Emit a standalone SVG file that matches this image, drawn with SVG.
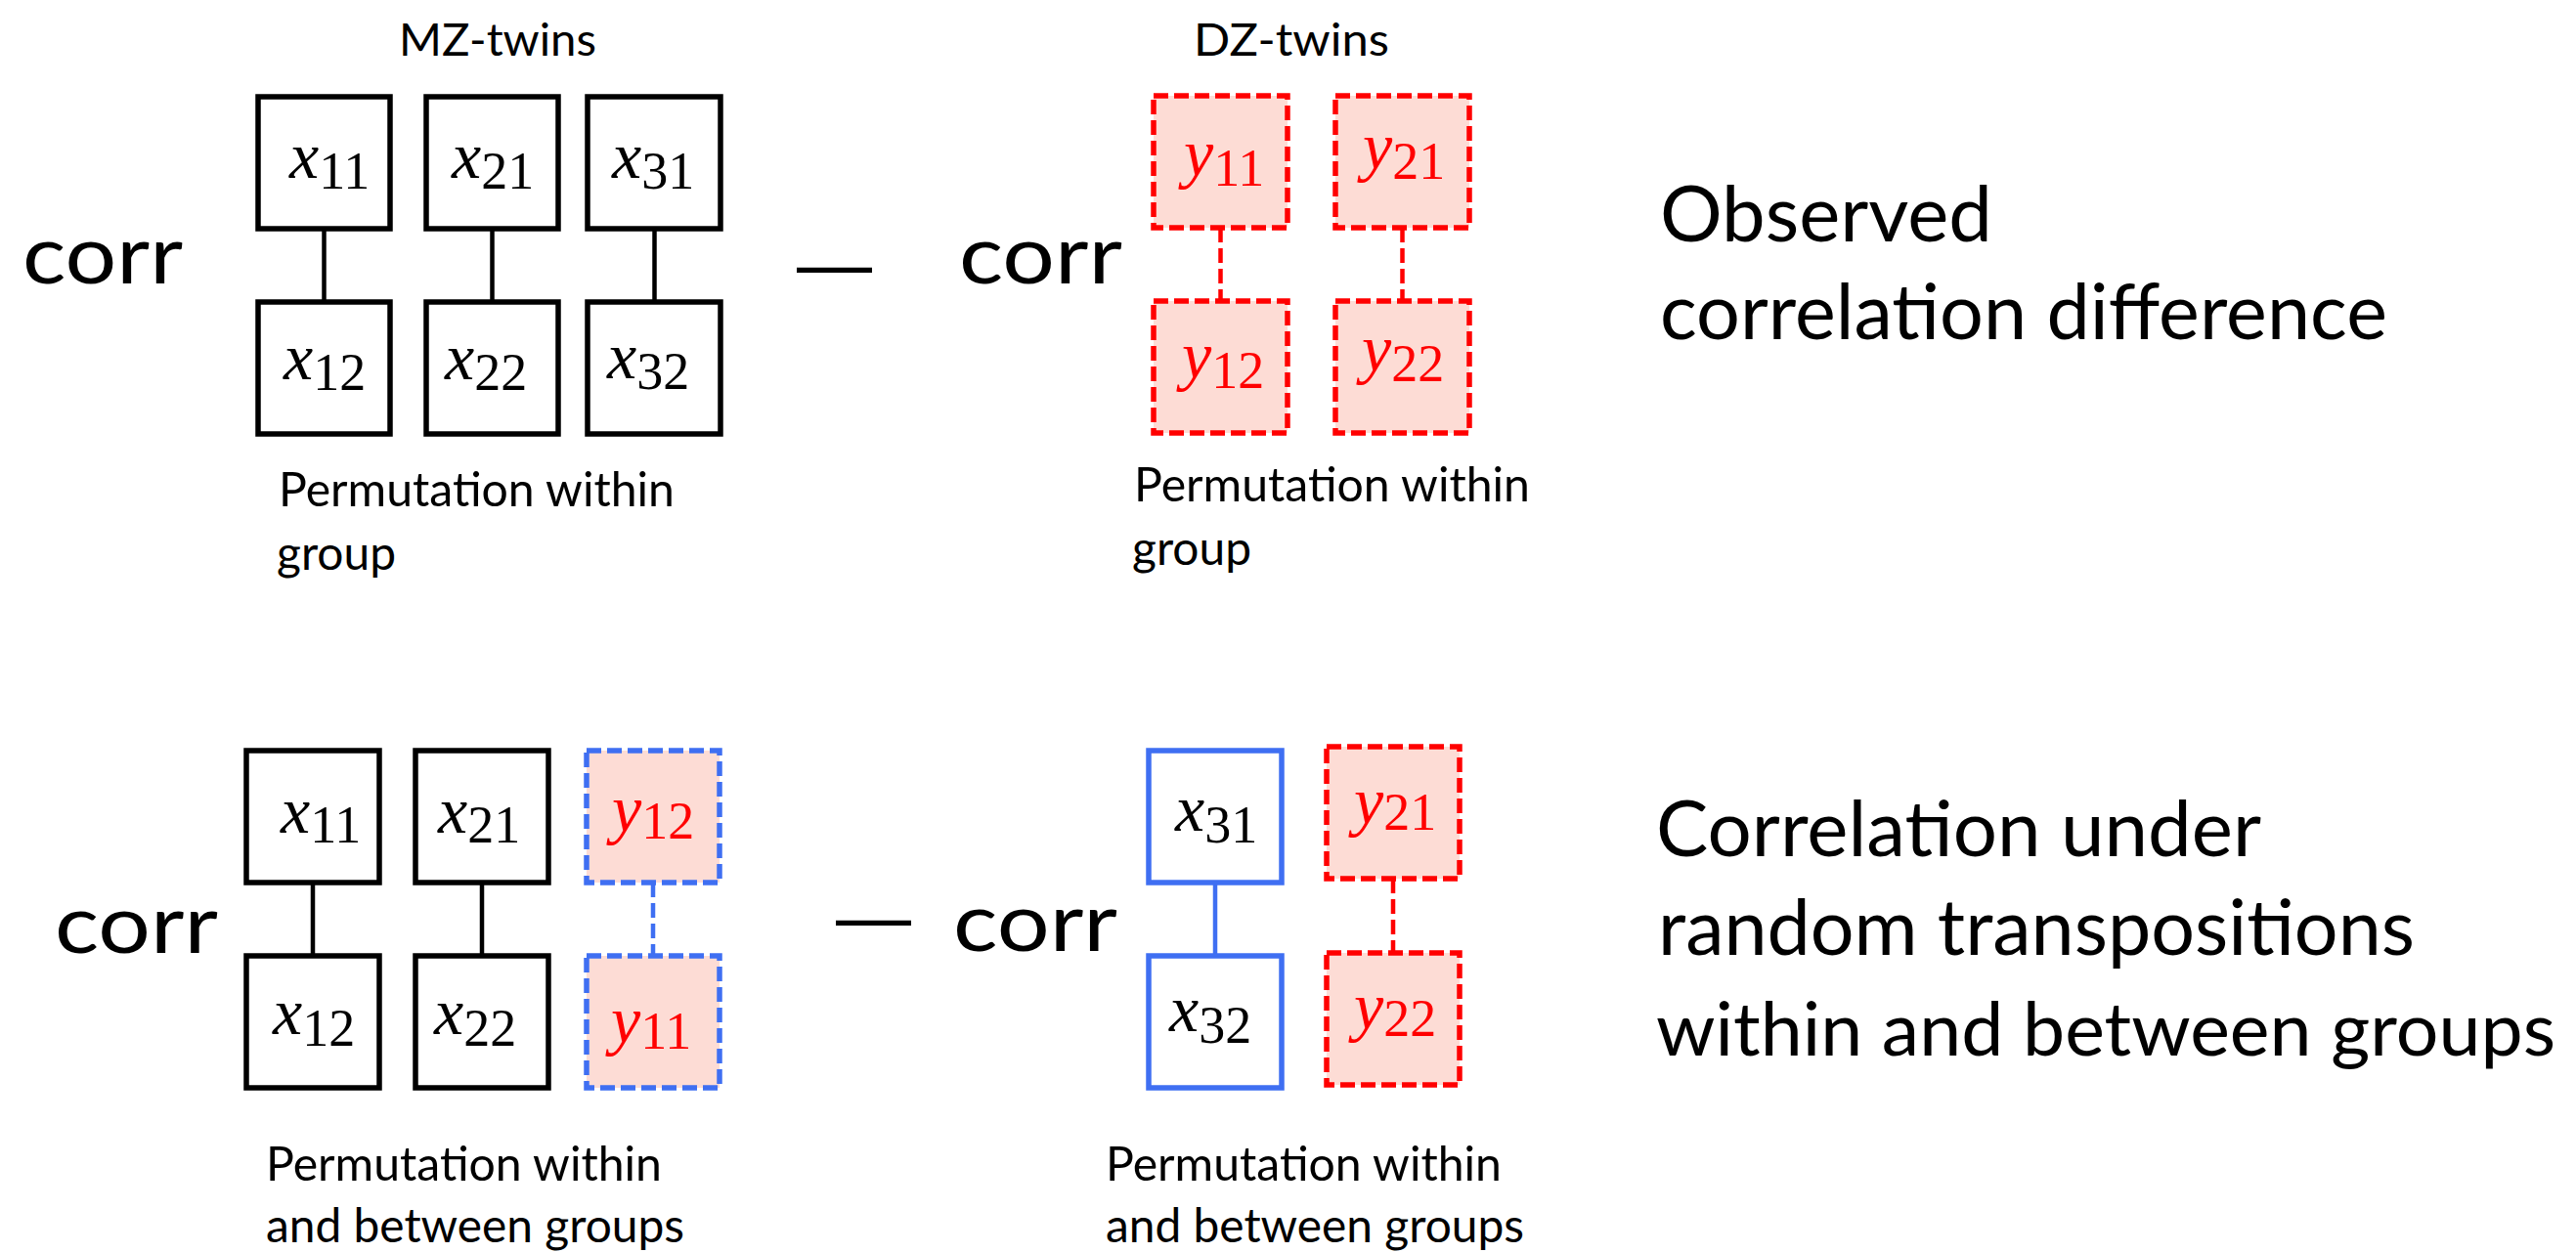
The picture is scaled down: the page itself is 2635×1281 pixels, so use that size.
<svg xmlns="http://www.w3.org/2000/svg" width="2635" height="1281" viewBox="0 0 2635 1281">
  <style>
    .t { font-family: Lato, "Open Sans", sans-serif; fill: #000; }
    .big { font-size: 84px; }
    .hd { font-size: 47px; }
    .cap { font-size: 48px; }
    .rt { font-size: 80px; }
    .rt2 { font-size: 75px; }
    .dash { font-family: "Liberation Sans", sans-serif; font-size: 78px; fill: #000; }
    .m { font-family: "Liberation Serif", "Times New Roman", serif; font-size: 68px; fill: #000; }
    .m.r { fill: #ff0000; }
    .v { font-style: italic; }
    .s { font-size: 54px; }
    .bk { fill: #ffffff; stroke: #000000; stroke-width: 5.5; }
    .bl { fill: #ffffff; stroke: #3f6ff2; stroke-width: 5.5; }
    .rd { fill: #fddcd5; stroke: #ff0000; stroke-width: 5.5; stroke-dasharray: 15 6; }
    .bd { fill: #fddcd5; stroke: #3f6ff2; stroke-width: 5.5; stroke-dasharray: 15 6; }
    .ck { stroke: #000000; stroke-width: 4.5; fill: none; }
    .cb { stroke: #3f6ff2; stroke-width: 4.5; fill: none; }
    .cr { stroke: #ff0000; stroke-width: 4.5; fill: none; stroke-dasharray: 15 6; }
    .cbd { stroke: #3f6ff2; stroke-width: 4.5; fill: none; stroke-dasharray: 15 6; }
  </style>

  <!-- headings -->
  <text class="t hd" x="408" y="57" textLength="202" lengthAdjust="spacingAndGlyphs">MZ-twins</text>
  <text class="t hd" x="1221" y="57" textLength="200" lengthAdjust="spacingAndGlyphs">DZ-twins</text>

  <!-- connectors -->
  <g id="connectors">
    <line class="ck" x1="331.5" y1="234" x2="331.5" y2="309"/>
    <line class="ck" x1="503.5" y1="234" x2="503.5" y2="309"/>
    <line class="ck" x1="669.5" y1="234" x2="669.5" y2="309"/>
    <line class="cr" x1="1248.5" y1="233" x2="1248.5" y2="308"/>
    <line class="cr" x1="1434.5" y1="233" x2="1434.5" y2="308"/>
    <line class="ck" x1="320" y1="903" x2="320" y2="978"/>
    <line class="ck" x1="493" y1="903" x2="493" y2="978"/>
    <line class="cbd" x1="668" y1="903" x2="668" y2="978"/>
    <line class="cb" x1="1243" y1="903" x2="1243" y2="978"/>
    <line class="cr" x1="1425" y1="899" x2="1425" y2="975"/>
  </g>

  <!-- observed: MZ pairs -->
  <g id="r1-x11"><rect class="bk" x="264" y="99" width="135" height="135"/>
    <text class="m" x="296" y="182"><tspan class="v">x</tspan><tspan class="s" dy="11">11</tspan></text></g>
  <g id="r1-x21"><rect class="bk" x="436" y="99" width="135" height="135"/>
    <text class="m" x="462" y="182"><tspan class="v">x</tspan><tspan class="s" dy="11">21</tspan></text></g>
  <g id="r1-x31"><rect class="bk" x="601" y="99" width="136" height="135"/>
    <text class="m" x="626" y="182"><tspan class="v">x</tspan><tspan class="s" dy="11">31</tspan></text></g>
  <g id="r1-x12"><rect class="bk" x="264" y="309" width="135" height="135"/>
    <text class="m" x="290" y="388"><tspan class="v">x</tspan><tspan class="s" dy="11">12</tspan></text></g>
  <g id="r1-x22"><rect class="bk" x="436" y="309" width="135" height="135"/>
    <text class="m" x="455" y="388"><tspan class="v">x</tspan><tspan class="s" dy="11">22</tspan></text></g>
  <g id="r1-x32"><rect class="bk" x="601" y="309" width="136" height="135"/>
    <text class="m" x="621" y="387"><tspan class="v">x</tspan><tspan class="s" dy="11">32</tspan></text></g>

  <!-- observed: DZ pairs -->
  <g id="r1-y11"><rect class="rd" x="1180" y="98" width="137" height="135"/>
    <text class="m r" x="1211" y="180"><tspan class="v">y</tspan><tspan class="s" dy="10">11</tspan></text></g>
  <g id="r1-y21"><rect class="rd" x="1366" y="98" width="137" height="135"/>
    <text class="m r" x="1394" y="173"><tspan class="v">y</tspan><tspan class="s" dy="10">21</tspan></text></g>
  <g id="r1-y12"><rect class="rd" x="1180" y="308" width="137" height="135"/>
    <text class="m r" x="1209" y="387"><tspan class="v">y</tspan><tspan class="s" dy="10">12</tspan></text></g>
  <g id="r1-y22"><rect class="rd" x="1366" y="308" width="137" height="135"/>
    <text class="m r" x="1393" y="380"><tspan class="v">y</tspan><tspan class="s" dy="10">22</tspan></text></g>

  <!-- permuted pairs -->
  <g id="r2-x11"><rect class="bk" x="252" y="768" width="136" height="135"/>
    <text class="m" x="287" y="852"><tspan class="v">x</tspan><tspan class="s" dy="10">11</tspan></text></g>
  <g id="r2-x21"><rect class="bk" x="425" y="768" width="136" height="135"/>
    <text class="m" x="448" y="852"><tspan class="v">x</tspan><tspan class="s" dy="10">21</tspan></text></g>
  <g id="r2-y12"><rect class="bd" x="600" y="768" width="136" height="135"/>
    <text class="m r" x="626" y="851"><tspan class="v">y</tspan><tspan class="s" dy="7">12</tspan></text></g>
  <g id="r2-x12"><rect class="bk" x="252" y="978" width="136" height="135"/>
    <text class="m" x="279" y="1058"><tspan class="v">x</tspan><tspan class="s" dy="12">12</tspan></text></g>
  <g id="r2-x22"><rect class="bk" x="425" y="978" width="136" height="135"/>
    <text class="m" x="444" y="1058"><tspan class="v">x</tspan><tspan class="s" dy="12">22</tspan></text></g>
  <g id="r2-y11"><rect class="bd" x="600" y="978" width="136" height="135"/>
    <text class="m r" x="625" y="1067"><tspan class="v">y</tspan><tspan class="s" dy="6">11</tspan></text></g>
  <g id="r2-x31"><rect class="bl" x="1175" y="768" width="136" height="135"/>
    <text class="m" x="1202" y="850"><tspan class="v">x</tspan><tspan class="s" dy="12">31</tspan></text></g>
  <g id="r2-x32"><rect class="bl" x="1175" y="978" width="136" height="135"/>
    <text class="m" x="1196" y="1055"><tspan class="v">x</tspan><tspan class="s" dy="12">32</tspan></text></g>
  <g id="r2-y21"><rect class="rd" x="1357" y="764" width="136" height="135"/>
    <text class="m r" x="1385" y="843"><tspan class="v">y</tspan><tspan class="s" dy="6">21</tspan></text></g>
  <g id="r2-y22"><rect class="rd" x="1357" y="975" width="136" height="135"/>
    <text class="m r" x="1385" y="1053"><tspan class="v">y</tspan><tspan class="s" dy="7">22</tspan></text></g>

  <!-- corr operators -->
  <text class="t big" x="23" y="290" textLength="164" lengthAdjust="spacingAndGlyphs">corr</text>
  <text class="dash" x="815" y="296" textLength="77" lengthAdjust="spacingAndGlyphs">—</text>
  <text class="t big" x="981" y="290" textLength="167" lengthAdjust="spacingAndGlyphs">corr</text>
  <text class="t big" x="56" y="975" textLength="167" lengthAdjust="spacingAndGlyphs">corr</text>
  <text class="dash" x="855" y="964" textLength="77" lengthAdjust="spacingAndGlyphs">—</text>
  <text class="t big" x="975" y="973" textLength="168" lengthAdjust="spacingAndGlyphs">corr</text>

  <!-- captions -->
  <text class="t cap" x="285" y="518" textLength="405" lengthAdjust="spacingAndGlyphs">Permutation within</text>
  <text class="t cap" x="283" y="583" textLength="122" lengthAdjust="spacingAndGlyphs">group</text>
  <text class="t cap" x="1160" y="513" textLength="405" lengthAdjust="spacingAndGlyphs">Permutation within</text>
  <text class="t cap" x="1158" y="578" textLength="122" lengthAdjust="spacingAndGlyphs">group</text>
  <text class="t cap" x="272" y="1208" textLength="405" lengthAdjust="spacingAndGlyphs">Permutation within</text>
  <text class="t cap" x="272" y="1271" textLength="428" lengthAdjust="spacingAndGlyphs">and between groups</text>
  <text class="t cap" x="1131" y="1208" textLength="405" lengthAdjust="spacingAndGlyphs">Permutation within</text>
  <text class="t cap" x="1131" y="1271" textLength="428" lengthAdjust="spacingAndGlyphs">and between groups</text>

  <!-- right-hand descriptions -->
  <text class="t rt" x="1698" y="247" textLength="340" lengthAdjust="spacingAndGlyphs">Observed</text>
  <text class="t rt" x="1698" y="347" textLength="744" lengthAdjust="spacingAndGlyphs">correlation difference</text>
  <text class="t rt" x="1694" y="876" textLength="619" lengthAdjust="spacingAndGlyphs">Correlation under</text>
  <text class="t rt" x="1696" y="977" textLength="774" lengthAdjust="spacingAndGlyphs">random transpositions</text>
  <text class="t rt2" x="1694" y="1080" textLength="920" lengthAdjust="spacingAndGlyphs">within and between groups</text>
</svg>
